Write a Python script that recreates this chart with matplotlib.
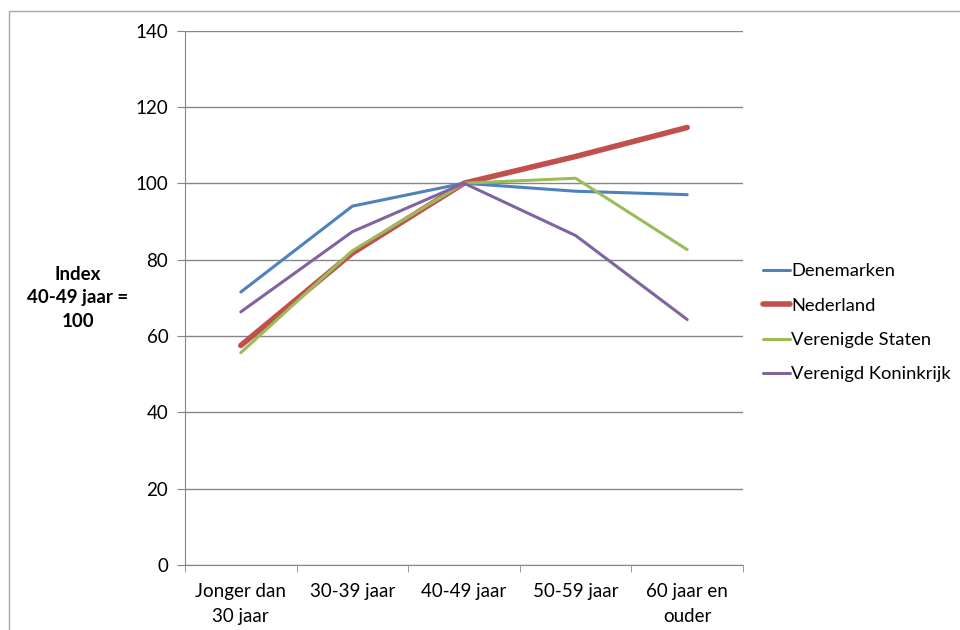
import matplotlib
matplotlib.use("Agg")
import matplotlib.pyplot as plt
from matplotlib.patches import Rectangle
from matplotlib.ticker import FixedLocator

plt.rcParams['font.family'] = ['Lato', 'DejaVu Sans']

categories = ['Jonger dan\n30 jaar', '30-39 jaar', '40-49 jaar', '50-59 jaar', '60 jaar en\nouder']
denemarken = [71.5, 94.0, 100.0, 97.9, 97.0]
nederland = [57.5, 81.7, 100.0, 107.0, 114.6]
verenigde_staten = [55.6, 82.3, 100.0, 101.3, 82.6]
verenigd_koninkrijk = [66.3, 87.3, 100.0, 86.3, 64.3]

series = [
    ('Denemarken', denemarken, '#4F81BD', 2.2),
    ('Nederland', nederland, '#C0504D', 4.0),
    ('Verenigde Staten', verenigde_staten, '#9BBB59', 2.2),
    ('Verenigd Koninkrijk', verenigd_koninkrijk, '#8064A2', 2.2),
]

fig = plt.figure(figsize=(9.6, 6.3), dpi=100)
# chart frame
fig.patches.append(Rectangle((9/960, -0.1), 1.0, (630-11)/630 + 0.1, transform=fig.transFigure,
                             fill=False, edgecolor='#A6A6A6', linewidth=1.0))

ax = fig.add_axes([185/960, (630-565)/630, (743-185)/960, (565-30.5)/630])
x = list(range(len(categories)))
for name, vals, col, lw in series:
    ax.plot(x, vals, color=col, linewidth=lw, label=name, solid_capstyle='round')

ax.set_xlim(-0.5, len(categories) - 0.5)
ax.set_ylim(0, 140)
ax.set_yticks(range(0, 141, 20))
ax.yaxis.grid(True, color='#868686', linewidth=1.0)
ax.set_axisbelow(True)
ax.set_xticks(x)
ax.set_xticklabels(categories, linespacing=1.6)
ax.xaxis.set_minor_locator(FixedLocator([i - 0.5 for i in range(len(categories) + 1)]))
ax.tick_params(axis='x', which='major', length=0, pad=13, labelsize=13.5)
ax.tick_params(axis='x', which='minor', length=5, color='#868686', direction='out')
ax.tick_params(axis='y', length=6, color='#868686', direction='out', labelsize=13.5, pad=6)
for s in ['top', 'right']:
    ax.spines[s].set_visible(False)
for s in ['left', 'bottom']:
    ax.spines[s].set_color('#868686')

fig.text(78/960, 1 - 298/630, 'Index\n40-49 jaar =\n100', ha='center', va='center',
         fontsize=13.5, fontweight='bold', linespacing=1.45)

ax.legend(loc='center left', bbox_to_anchor=(763/960, 1 - 323/630), bbox_transform=fig.transFigure,
          frameon=False, fontsize=13.2, handlelength=1.45, handletextpad=0.1, labelspacing=1.0,
          borderaxespad=0, borderpad=0)

fig.savefig('out.png', dpi=100)
